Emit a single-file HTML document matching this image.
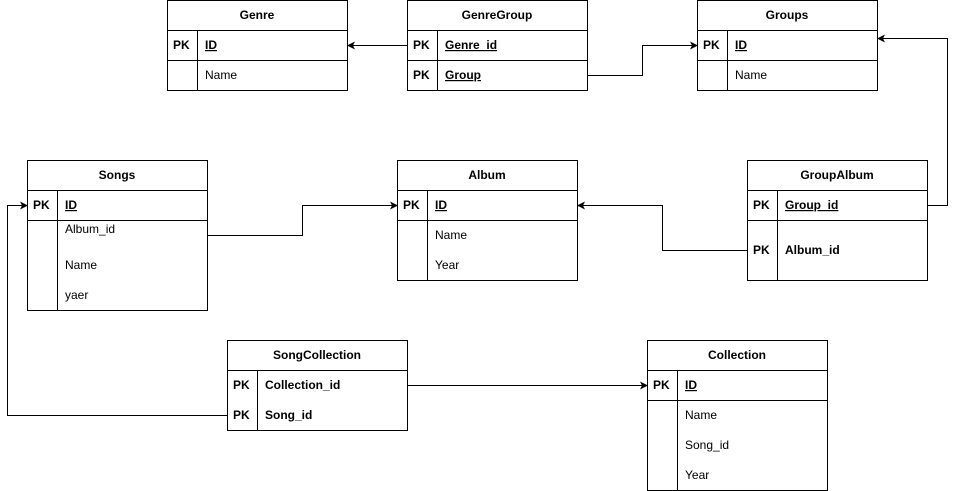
<!DOCTYPE html>
<html><head><style>body{margin:0;background:#fff}svg{display:block}text{font-family:"Liberation Sans",Arial,sans-serif;font-size:12px;fill:#000}</style></head><body>
<svg width="956" height="491" viewBox="0 0 956 491" xmlns="http://www.w3.org/2000/svg">
<defs><marker id="a" markerWidth="8" markerHeight="8" refX="7" refY="4" orient="auto" markerUnits="userSpaceOnUse"><path d="M0,0 L8,4 L0,8 L2,4 Z" fill="#000"/></marker></defs>
<g fill="#fff" stroke="#000" stroke-width="1">
<!-- Genre -->
<rect x="167.5" y="0.5" width="180" height="90"/><path d="M167.5 30.5H347.5M167.5 60.5H347.5M197.5 30.5V90.5"/>
<rect x="407.5" y="0.5" width="180" height="90"/><path d="M407.5 30.5H587.5M407.5 60.5H587.5M437.5 30.5V90.5"/>
<rect x="697.5" y="0.5" width="180" height="90"/><path d="M697.5 30.5H877.5M697.5 60.5H877.5M727.5 30.5V90.5"/>
<rect x="27.5" y="160.5" width="180" height="150"/><path d="M27.5 190.5H207.5M27.5 220.5H207.5M57.5 190.5V310.5"/>
<rect x="397.5" y="160.5" width="180" height="120"/><path d="M397.5 190.5H577.5M397.5 220.5H577.5M427.5 190.5V280.5"/>
<rect x="747.5" y="160.5" width="180" height="120"/><path d="M747.5 190.5H927.5M747.5 220.5H927.5M777.5 190.5V280.5"/>
<rect x="227.5" y="340.5" width="180" height="90"/><path d="M227.5 370.5H407.5M257.5 370.5V430.5"/>
<rect x="647.5" y="340.5" width="180" height="150"/><path d="M647.5 370.5H827.5M647.5 400.5H827.5M677.5 370.5V490.5"/>
</g>
<g fill="none" stroke="#000" stroke-width="1">
<path d="M407.5 45.5H348" marker-end="url(#a)"/>
<path d="M587.5 75.5H642.5V45.5H697" marker-end="url(#a)"/>
<path d="M927.5 205.5H947.5V38.5H878" marker-end="url(#a)"/>
<path d="M207.5 235.5H302.5V205.5H397" marker-end="url(#a)"/>
<path d="M747.5 250.5H662.5V205.5H578" marker-end="url(#a)"/>
<path d="M227.5 415.5H7.5V205.5H27" marker-end="url(#a)"/>
<path d="M407.5 385.5H647" marker-end="url(#a)"/>
</g>
<g font-weight="bold" text-anchor="middle">
<text x="257" y="19" font-weight="bold">Genre</text>
<text x="497" y="19" font-weight="bold">GenreGroup</text>
<text x="787" y="19" font-weight="bold">Groups</text>
<text x="117" y="179" font-weight="bold">Songs</text>
<text x="487" y="179" font-weight="bold">Album</text>
<text x="837" y="179" font-weight="bold">GroupAlbum</text>
<text x="317" y="359" font-weight="bold">SongCollection</text>
<text x="737" y="359" font-weight="bold">Collection</text>
</g>
<g font-weight="bold">
<text x="173" y="49" font-weight="bold">PK</text><text x="205" y="49" font-weight="bold" text-decoration="underline">ID</text>
<text x="413" y="49" font-weight="bold">PK</text><text x="445" y="49" font-weight="bold" text-decoration="underline">Genre_id</text>
<text x="413" y="79" font-weight="bold">PK</text><text x="445" y="79" font-weight="bold" text-decoration="underline">Group</text>
<text x="703" y="49" font-weight="bold">PK</text><text x="735" y="49" font-weight="bold" text-decoration="underline">ID</text>
<text x="33" y="209" font-weight="bold">PK</text><text x="65" y="209" font-weight="bold" text-decoration="underline">ID</text>
<text x="403" y="209" font-weight="bold">PK</text><text x="435" y="209" font-weight="bold" text-decoration="underline">ID</text>
<text x="753" y="209" font-weight="bold">PK</text><text x="785" y="209" font-weight="bold" text-decoration="underline">Group_id</text>
<text x="753" y="254" font-weight="bold">PK</text><text x="785" y="254" font-weight="bold">Album_id</text>
<text x="233" y="389" font-weight="bold">PK</text><text x="265" y="389" font-weight="bold">Collection_id</text>
<text x="233" y="419" font-weight="bold">PK</text><text x="265" y="419" font-weight="bold">Song_id</text>
<text x="653" y="389" font-weight="bold">PK</text><text x="685" y="389" font-weight="bold" text-decoration="underline">ID</text>
</g>
<g>
<text x="205" y="79">Name</text>
<text x="735" y="79">Name</text>
<text x="65" y="233">Album_id</text>
<text x="65" y="269">Name</text>
<text x="65" y="299">yaer</text>
<text x="435" y="239">Name</text>
<text x="435" y="269">Year</text>
<text x="685" y="419">Name</text>
<text x="685" y="449">Song_id</text>
<text x="685" y="479">Year</text>
</g>
</svg>
</body></html>
